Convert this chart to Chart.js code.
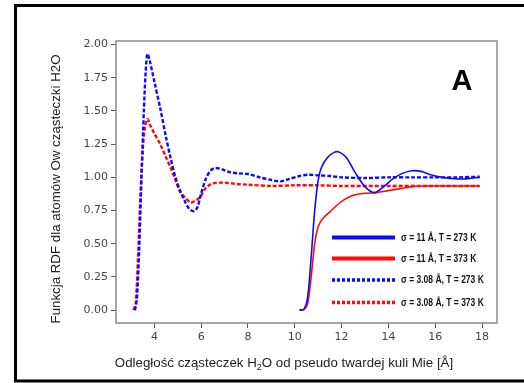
<!DOCTYPE html>
<html>
<head>
<meta charset="utf-8">
<script src="https://cdn.jsdelivr.net/npm/chart.js@4.4.1/dist/chart.umd.min.js"></script>
<style>
  html, body { margin: 0; padding: 0; background: #fff; overflow: hidden; }
  #wrap { width: 524px; height: 383px; overflow: hidden; }
</style>
</head>
<body>
<div id="wrap"><canvas id="grafico" width="524" height="383"></canvas></div>
<script>
// dane
const xTicks = [4, 6, 8, 10, 12, 14, 16, 18];
const yTicks = [0, 0.25, 0.5, 0.75, 1.0, 1.25, 1.5, 1.75, 2.0];

// sigma = 11 A, T = 273 K
const xSig11T273 = [10.2, 10.4, 10.55, 10.7, 10.85, 11.0, 11.15, 11.4, 11.7, 11.9, 12.2, 12.6, 13.0, 13.4, 13.8, 14.2, 14.6, 15.0, 15.4, 15.8, 16.3, 16.8, 17.2, 17.6, 17.9];
const ySig11T273 = [0, 0.01, 0.1, 0.4, 0.75, 0.98, 1.08, 1.15, 1.19, 1.19, 1.15, 1.03, 0.93, 0.885, 0.93, 0.99, 1.03, 1.05, 1.045, 1.02, 1.0, 0.99, 0.988, 0.995, 1.0];

// sigma = 11 A, T = 373 K
const xSig11T373 = [10.2, 10.4, 10.55, 10.7, 10.85, 11.0, 11.2, 11.5, 11.8, 12.1, 12.5, 13.0, 13.5, 14.0, 14.5, 15.0, 15.5, 16.0, 17.0, 17.9];
const ySig11T373 = [0, 0.005, 0.05, 0.25, 0.5, 0.63, 0.69, 0.74, 0.79, 0.83, 0.865, 0.88, 0.885, 0.9, 0.915, 0.93, 0.935, 0.935, 0.935, 0.935];

// sigma = 3.08 A, T = 273 K
const xSig308T273 = [3.17, 3.25, 3.35, 3.45, 3.55, 3.63, 3.7, 3.8, 4.0, 4.25, 4.5, 4.7, 4.9, 5.1, 5.3, 5.5, 5.7, 5.85, 6.0, 6.2, 6.4, 6.6, 6.9, 7.2, 7.6, 8.0, 8.5, 9.0, 9.4, 9.8, 10.2, 10.6, 11.0, 11.5, 12.0, 13.0, 14.0, 15.0, 16.0, 17.0, 17.9];
const ySig308T273 = [0, 0.08, 0.45, 1.0, 1.5, 1.8, 1.93, 1.88, 1.72, 1.52, 1.3, 1.14, 1.0, 0.9, 0.82, 0.76, 0.745, 0.78, 0.88, 0.99, 1.05, 1.07, 1.06, 1.04, 1.03, 1.025, 1.0, 0.98, 0.97, 0.99, 1.01, 1.02, 1.015, 1.01, 1.0, 0.995, 1.0, 1.0, 1.0, 1.0, 1.005];

// sigma = 3.08 A, T = 373 K
const xSig308T373 = [3.1, 3.2, 3.3, 3.4, 3.5, 3.6, 3.7, 3.8, 4.0, 4.25, 4.5, 4.7, 4.9, 5.1, 5.3, 5.55, 5.7, 5.8, 5.95, 6.2, 6.5, 7.0, 7.5, 8.0, 9.0, 10.0, 11.0, 12.0, 14.0, 16.0, 17.9];
const ySig308T373 = [0, 0.05, 0.4, 0.85, 1.2, 1.38, 1.44, 1.4, 1.33, 1.25, 1.15, 1.07, 0.98, 0.89, 0.85, 0.81, 0.82, 0.83, 0.85, 0.92, 0.955, 0.96, 0.95, 0.945, 0.935, 0.94, 0.94, 0.935, 0.935, 0.935, 0.935];

const etykiety = ['σ = 11 Å, T = 273 K', 'σ = 11 Å, T = 373 K', 'σ = 3.08 Å, T = 273 K', 'σ = 3.08 Å, T = 373 K'];

function punkty(xs, ys) {
  return xs.map((x, i) => ({ x: x, y: ys[i] }));
}

// rysowanie ramek, tytulow osi i legendy
const dodatki = {
  id: 'dodatki',
  afterDraw(chart) {
    const c = chart.ctx;
    const a = chart.chartArea;
    c.save();
    // ramka zewnetrzna (prawa krawedz poza obrazem)
    c.strokeStyle = '#000';
    c.lineWidth = 3;
    c.beginPath();
    c.moveTo(600, 5.5);
    c.lineTo(15.5, 5.5);
    c.lineTo(15.5, 381);
    c.lineTo(600, 381);
    c.stroke();
    // ramka wykresu
    c.strokeStyle = '#8a8a8a';
    c.lineWidth = 1.5;
    c.strokeRect(a.left, a.top, a.right - a.left, a.bottom - a.top);

    // tytul osi Y
    c.fillStyle = '#222';
    c.font = '13.3px "Liberation Sans", Arial, sans-serif';
    c.textAlign = 'center';
    c.textBaseline = 'middle';
    c.save();
    c.translate(56, 189);
    c.rotate(-Math.PI / 2);
    c.fillText('Funkcja RDF dla atomów Ow cząsteczki H2O', 0, 0);
    c.restore();

    // tytul osi X z indeksem dolnym
    const czesci = [['Odległość cząsteczek H', 13.3, 0], ['2', 9, 3], ['O od pseudo twardej kuli Mie [Å]', 13.3, 0]];
    let szer = 0;
    czesci.forEach(p => { c.font = p[1] + 'px "Liberation Sans", Arial, sans-serif'; szer += c.measureText(p[0]).width; });
    let x = 284 - szer / 2;
    c.textAlign = 'left';
    c.textBaseline = 'alphabetic';
    czesci.forEach(p => {
      c.font = p[1] + 'px "Liberation Sans", Arial, sans-serif';
      c.fillText(p[0], x, 367 + p[2]);
      x += c.measureText(p[0]).width;
    });

    // litera A
    c.fillStyle = '#000';
    c.font = 'bold 29px "Liberation Sans", Arial, sans-serif';
    c.textAlign = 'center';
    c.fillText('A', 462, 90);

    // legenda
    const wiersze = [237.5, 258.5, 280, 302.5];
    chart.data.datasets.forEach((ds, i) => {
      c.strokeStyle = ds.borderColor;
      c.lineWidth = i < 2 ? 4 : 3.5;
      c.setLineDash(i < 2 ? [] : [3, 2]);
      c.beginPath();
      c.moveTo(332, wiersze[i]);
      c.lineTo(395, wiersze[i]);
      c.stroke();
      c.setLineDash([]);
      c.fillStyle = '#111';
      c.font = 'bold 10px "Liberation Sans", Arial, sans-serif';
      c.textAlign = 'left';
      c.textBaseline = 'middle';
      c.save();
      c.translate(401, wiersze[i] + 0.5);
      c.scale(0.85, 1);
      c.fillText(ds.label, 0, 0);
      c.restore();
    });
    c.restore();
  }
};

const ctx = document.getElementById('grafico');
const grafico = new Chart(ctx, {
  type: 'scatter',
  data: {
    datasets: [
      { label: etykiety[0], data: punkty(xSig11T273, ySig11T273), borderColor: '#0a0aff', borderWidth: 1.6, showLine: true, pointRadius: 0, tension: 0.3 },
      { label: etykiety[1], data: punkty(xSig11T373, ySig11T373), borderColor: '#ff0a0a', borderWidth: 1.6, showLine: true, pointRadius: 0, tension: 0.3 },
      { label: etykiety[2], data: punkty(xSig308T273, ySig308T273), borderColor: '#0a0aff', borderWidth: 2.4, borderDash: [4, 2], showLine: true, pointRadius: 0, tension: 0.3 },
      { label: etykiety[3], data: punkty(xSig308T373, ySig308T373), borderColor: '#ff0a0a', borderWidth: 2.4, borderDash: [4, 2], showLine: true, pointRadius: 0, tension: 0.3 }
    ]
  },
  options: {
    responsive: false,
    animation: false,
    layout: { padding: { left: 0, top: 41, right: 27, bottom: 0 } },
    plugins: { legend: { display: false }, tooltip: { enabled: false } },
    scales: {
      x: {
        type: 'linear',
        min: 2.36,
        max: 18.64,
        afterFit: (s) => { s.height = 60; },
        afterBuildTicks: (s) => { s.ticks = xTicks.map(v => ({ value: v })); },
        grid: { drawOnChartArea: false, tickLength: 5, color: '#555', tickWidth: 1 },
        border: { display: false },
        ticks: { color: '#444', padding: 3, font: { family: '"DejaVu Sans", sans-serif', size: 11 }, callback: v => String(v) }
      },
      y: {
        min: -0.0965,
        max: 2.0265,
        afterFit: (s) => { s.width = 116; },
        afterBuildTicks: (s) => { s.ticks = yTicks.map(v => ({ value: v })); },
        grid: { drawOnChartArea: false, tickLength: 5, color: '#555', tickWidth: 1 },
        border: { display: false },
        ticks: { color: '#444', padding: 3, font: { family: '"DejaVu Sans", sans-serif', size: 11 }, callback: v => v.toFixed(2) }
      }
    }
  },
  plugins: [dodatki]
});
</script>
</body>
</html>
